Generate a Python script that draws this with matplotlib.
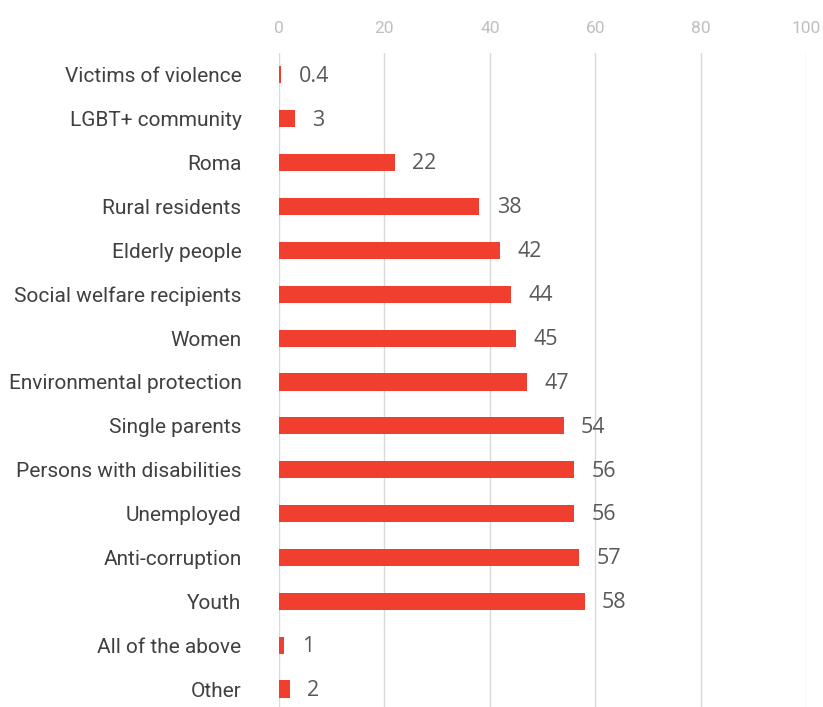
import numpy as np
import matplotlib
matplotlib.use('Agg')
from matplotlib import pyplot as plt

categories = [
    'Victims of violence', 'LGBT+ community', 'Roma', 'Rural residents',
    'Elderly people', 'Social welfare recipients', 'Women',
    'Environmental protection', 'Single parents', 'Persons with disabilities',
    'Unemployed', 'Anti-corruption', 'Youth', 'All of the above', 'Other',
]
values = [0.4, 3, 22, 38, 42, 44, 45, 47, 54, 56, 56, 57, 58, 1, 2]
value_labels = ['0.4', '3', '22', '38', '42', '44', '45', '47', '54', '56',
                '56', '57', '58', '1', '2']
xticks = [0, 20, 40, 60, 80, 100]

fig = plt.figure(figsize=(8.23, 7.07), dpi=100)
ax = fig.add_axes([279 / 823, 0.0, 527 / 823, 1 - 53 / 707])

y = np.arange(len(categories))
ax.barh(y, values, height=0.39, color='#f03e2f', zorder=3)

for yi, v, lab in zip(y, values, value_labels):
    ax.text(v + 3.3, yi + 0.03, lab, va='center', ha='left', fontsize=15.5,
            family='Open Sans', color='#595959')

ax.set_xlim(0, 100)
ax.set_ylim(14.41, -0.5)
ax.set_yticks(y)
ax.set_yticklabels(categories, family='Roboto', fontsize=15, color='#404040')
ax.set_xticks(xticks)
ax.set_xticklabels([str(t) for t in xticks], family='Roboto', fontsize=12.5,
                   color='#bfbfbf')
ax.xaxis.tick_top()
ax.tick_params(axis='x', length=0, pad=12)
ax.tick_params(axis='y', length=0, pad=27)
ax.grid(axis='x', color='#d9d9d9', linewidth=1, zorder=0)
for s in ax.spines.values():
    s.set_visible(False)

fig.savefig('out.png', dpi=100)
